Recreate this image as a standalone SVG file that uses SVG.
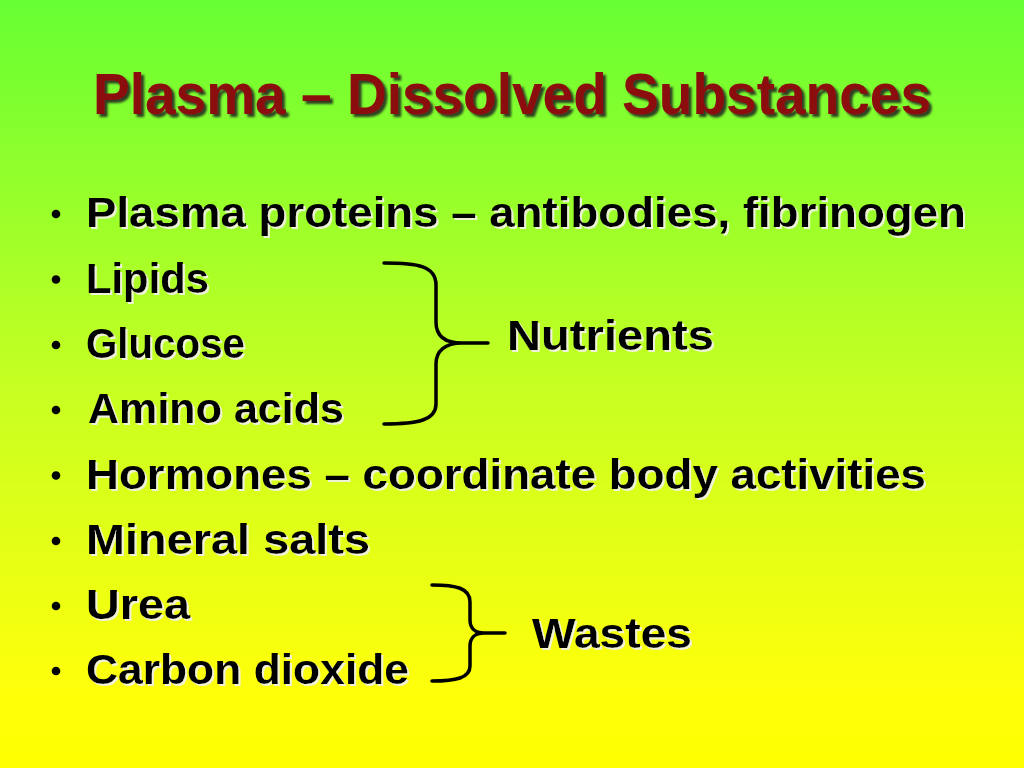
<svg xmlns="http://www.w3.org/2000/svg" width="1024" height="768" viewBox="0 0 1024 768">
  <defs>
    <linearGradient id="bg" x1="0" y1="0" x2="0" y2="1">
      <stop offset="0" stop-color="#66FF33"/>
      <stop offset="0.5" stop-color="#C6FF22"/>
      <stop offset="0.9" stop-color="#FFFF0A"/>
      <stop offset="1" stop-color="#FFFF00"/>
    </linearGradient>
    <filter id="titleShadow" x="-5%" y="-20%" width="110%" height="150%">
      <feDropShadow dx="3" dy="3" stdDeviation="1" flood-color="#1e1e1e" flood-opacity="0.85"/>
    </filter>
    <filter id="itemShadow" x="-5%" y="-20%" width="110%" height="150%">
      <feDropShadow dx="2" dy="2" stdDeviation="0.7" flood-color="#f2f2e0" flood-opacity="0.95"/>
    </filter>
  </defs>
  <style>
    .title { font-family: "Liberation Sans", Arial, sans-serif; font-weight: bold; font-size: 57px; fill: #8B0A0A; filter: url(#titleShadow); font-variant-ligatures: none; }
    .item { font-family: "Liberation Sans", Arial, sans-serif; font-weight: bold; font-size: 43px; fill: #000000; filter: url(#itemShadow); font-variant-ligatures: none; }
    .bullet { fill: #000000; }
    .brace { fill: none; stroke: #000000; stroke-width: 3.5; stroke-linecap: round; stroke-linejoin: round; }
  </style>
  <rect x="0" y="0" width="1024" height="768" fill="url(#bg)"/>

  <g id="title">
    <text class="title" x="93" y="114" textLength="838" lengthAdjust="spacingAndGlyphs">Plasma – Dissolved Substances</text>
  </g>

  <g id="item-plasma-proteins">
    <circle class="bullet" cx="56" cy="214" r="4.3"/>
    <text class="item" x="86" y="227" textLength="880" lengthAdjust="spacingAndGlyphs">Plasma proteins – antibodies, fibrinogen</text>
  </g>
  <g id="item-lipids">
    <circle class="bullet" cx="56" cy="279.5" r="4.3"/>
    <text class="item" x="86" y="292.5" textLength="123" lengthAdjust="spacingAndGlyphs">Lipids</text>
  </g>
  <g id="item-glucose">
    <circle class="bullet" cx="56" cy="345" r="4.3"/>
    <text class="item" x="86" y="358" textLength="159" lengthAdjust="spacingAndGlyphs">Glucose</text>
  </g>
  <g id="item-amino-acids">
    <circle class="bullet" cx="56" cy="410" r="4.3"/>
    <text class="item" x="88" y="423" textLength="256" lengthAdjust="spacingAndGlyphs">Amino acids</text>
  </g>
  <g id="item-hormones">
    <circle class="bullet" cx="56" cy="475.5" r="4.3"/>
    <text class="item" x="86" y="488.5" textLength="840" lengthAdjust="spacingAndGlyphs">Hormones – coordinate body activities</text>
  </g>
  <g id="item-mineral-salts">
    <circle class="bullet" cx="56" cy="541" r="4.3"/>
    <text class="item" x="86" y="554" textLength="284" lengthAdjust="spacingAndGlyphs">Mineral salts</text>
  </g>
  <g id="item-urea">
    <circle class="bullet" cx="56" cy="606" r="4.3"/>
    <text class="item" x="86" y="619" textLength="104" lengthAdjust="spacingAndGlyphs">Urea</text>
  </g>
  <g id="item-carbon-dioxide">
    <circle class="bullet" cx="56" cy="671" r="4.3"/>
    <text class="item" x="86" y="684" textLength="323" lengthAdjust="spacingAndGlyphs">Carbon dioxide</text>
  </g>

  <g id="label-nutrients">
    <text class="item" x="507" y="350" textLength="207" lengthAdjust="spacingAndGlyphs">Nutrients</text>
  </g>
  <g id="label-wastes">
    <text class="item" x="532" y="648" textLength="160" lengthAdjust="spacingAndGlyphs">Wastes</text>
  </g>

  <g id="connectors">
    <path class="brace" d="M384,263 C418,263 436,266 436,285 L436,322 C436,336 445,343 462,343 L488,343 M462,343 C445,343 436,351 436,364 L436,404 C436,420 418,424 384,424"/>
    <path class="brace" d="M432,585 C456,585 470,588 470,602 L470,620 C470,628 475,633 484,633 L505,633 M484,633 C475,633 470,638 470,646 L470,666 C470,678 456,681 432,681"/>
  </g>
</svg>
